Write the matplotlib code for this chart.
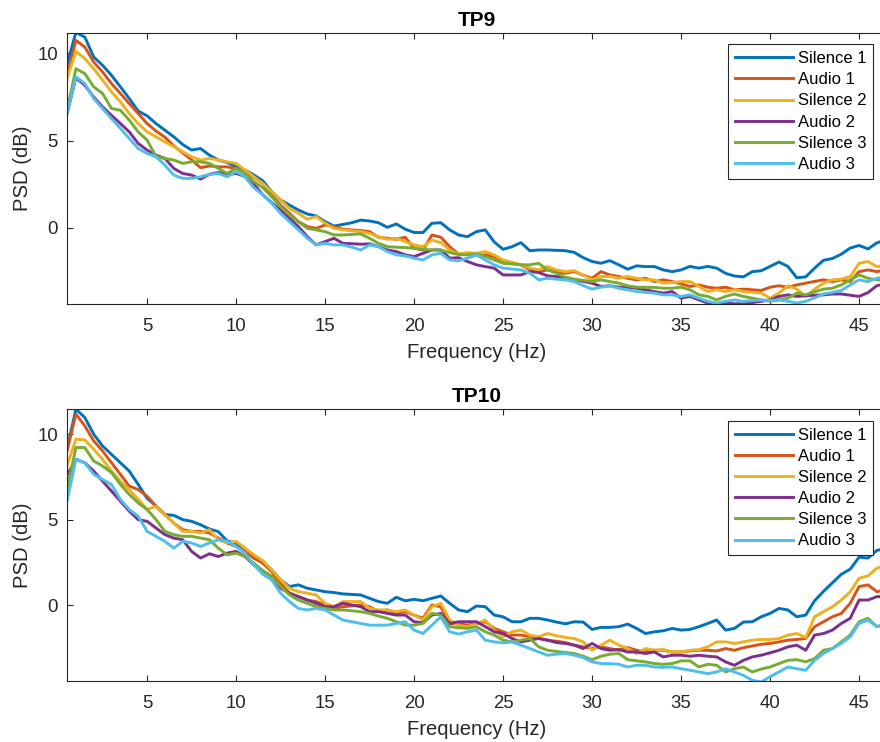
import numpy as np
import matplotlib
matplotlib.use("Agg")
import matplotlib.pyplot as plt

plt.rcParams['font.family'] = ['Liberation Sans', 'DejaVu Sans']

# Frequency grid (Hz), 0.5 Hz resolution
freqs = np.arange(0.5, 46.51, 0.5)

labels = ["Silence 1", "Audio 1", "Silence 2", "Audio 2", "Silence 3", "Audio 3"]
colors = ["#0072BD", "#D95319", "#EDB120", "#7E2F8E", "#77AC30", "#4DBEEE"]

# ---------------- TP9 ----------------
tp9_silence1 = [9.35, 11.2, 10.93, 9.79, 9.31, 8.74, 8.08, 7.41, 6.69, 6.42,
                5.98, 5.6, 5.22, 4.78, 4.46, 4.55, 4.17, 3.89, 3.75, 3.5,
                3.31, 3.03, 2.7, 2.08, 1.6, 1.31, 1.03, 0.8, 0.69, 0.36,
                0.11, 0.2, 0.3, 0.45, 0.4, 0.3, 0.04, 0.23, -0.07, -0.26,
                -0.26, 0.27, 0.3, -0.11, -0.4, -0.5, -0.21, -0.11, -0.8, -1.22,
                -1.07, -0.84, -1.3, -1.26, -1.26, -1.28, -1.3, -1.4, -1.7, -1.92,
                -2.02, -1.87, -2.11, -2.36, -2.17, -2.21, -2.21, -2.4, -2.5, -2.4,
                -2.2, -2.3, -2.2, -2.3, -2.6, -2.75, -2.8, -2.5, -2.45, -2.2,
                -1.95, -2.2, -2.85, -2.8, -2.3, -1.85, -1.75, -1.5, -1.15, -1.0,
                -1.2, -0.85, -0.7]
tp9_audio1 = [8.7, 10.74, 10.36, 9.5, 8.93, 8.27, 7.7, 7.12, 6.55, 5.98,
              5.55, 5.2, 4.7, 4.3, 3.9, 3.45, 3.55, 3.5, 3.5, 3.4,
              3.2, 2.9, 2.55, 1.89, 1.31, 0.84, 0.36, 0.08, -0.02, 0.17,
              0.08, -0.07, -0.11, -0.15, -0.21, -0.53, -0.59, -0.65, -0.53, -1.16,
              -1.26, -0.4, -0.53, -1.07, -1.5, -1.45, -1.54, -1.54, -1.64, -1.92,
              -2.0, -2.11, -2.4, -2.5, -2.4, -2.5, -2.59, -2.5, -2.7, -2.88,
              -2.5, -2.69, -2.78, -2.88, -2.97, -2.88, -3.07, -2.97, -3.07, -3.2,
              -3.35, -3.26, -3.39, -3.45, -3.39, -3.54, -3.5, -3.54, -3.58, -3.39,
              -3.31, -3.39, -3.26, -3.16, -3.06, -2.97, -3.07, -2.97, -3.07, -2.5,
              -2.4, -2.5, -2.4]
tp9_silence2 = [8.55, 10.11, 9.7, 9.12, 8.46, 7.79, 7.22, 6.55, 5.98, 5.5,
                5.22, 4.93, 4.65, 4.36, 4.08, 3.89, 3.98, 3.89, 3.79, 3.7,
                3.31, 2.93, 2.55, 2.08, 1.6, 1.12, 0.84, 0.5, 0.65, 0.27,
                -0.02, -0.11, -0.16, -0.21, -0.31, -0.5, -0.65, -0.59, -0.78, -0.97,
                -1.07, -0.69, -0.84, -1.26, -1.5, -1.41, -1.45, -1.35, -1.54, -1.83,
                -1.97, -2.11, -2.3, -2.4, -2.21, -2.4, -2.5, -2.44, -2.7, -2.97,
                -2.78, -2.78, -2.88, -2.78, -2.88, -2.97, -2.97, -3.16, -3.12, -3.07,
                -3.07, -3.35, -3.64, -3.54, -3.64, -3.54, -3.64, -3.68, -3.73, -4.02,
                -3.73, -3.31, -3.5, -3.92, -3.5, -3.16, -2.97, -2.93, -2.78, -2.02,
                -1.92, -2.21, -2.15]
tp9_audio2 = [6.55, 8.6, 8.17, 7.5, 6.93, 6.45, 5.98, 5.5, 4.84, 4.46,
              4.17, 3.98, 3.41, 3.12, 3.03, 2.8, 3.07, 3.18, 3.07, 3.12,
              2.95, 2.5, 1.9, 1.45, 1.03, 0.55, 0.08, -0.5, -0.97, -0.78,
              -0.59, -0.88, -0.9, -0.93, -0.91, -1.07, -1.26, -1.35, -1.54, -1.64,
              -1.45, -1.26, -1.26, -1.73, -1.7, -1.92, -2.11, -2.21, -2.3, -2.69,
              -2.69, -2.69, -2.5, -2.55, -2.74, -2.78, -2.88, -2.97, -3.06, -3.16,
              -3.35, -3.31, -3.39, -3.39, -3.45, -3.54, -3.64, -3.73, -3.64, -4.02,
              -3.92, -4.12, -4.3, -4.4, -4.3, -4.34, -4.34, -4.27, -4.2, -4.12,
              -3.92, -3.83, -3.92, -3.88, -3.85, -3.83, -3.78, -3.78, -3.85, -3.92,
              -3.7, -3.3, -3.2]
tp9_silence3 = [6.7, 9.12, 8.84, 8.08, 7.7, 6.84, 6.74, 6.17, 5.5, 5.03,
                4.08, 3.98, 3.89, 3.7, 3.79, 3.79, 3.7, 3.41, 3.12, 3.41,
                3.12, 2.65, 2.3, 1.79, 1.22, 0.74, 0.36, -0.02, -0.11, -0.21,
                -0.4, -0.4, -0.37, -0.34, -0.59, -0.88, -1.07, -1.1, -1.12, -1.16,
                -1.22, -1.26, -1.26, -1.41, -1.52, -1.54, -1.49, -1.64, -1.83, -2.02,
                -2.06, -2.11, -2.11, -2.02, -2.4, -2.59, -2.82, -2.93, -3.0, -3.07,
                -2.97, -3.07, -3.16, -3.31, -3.39, -3.4, -3.4, -3.45, -3.45, -3.39,
                -3.54, -3.83, -3.92, -4.12, -3.92, -3.78, -3.92, -4.02, -4.12, -4.2,
                -4.12, -4.02, -3.73, -3.83, -3.65, -3.5, -3.45, -3.26, -2.97, -2.69,
                -2.88, -2.97, -3.0]
tp9_audio3 = [6.55, 8.65, 8.27, 7.41, 6.84, 6.26, 5.7, 5.12, 4.55, 4.27,
              4.08, 3.6, 3.03, 2.84, 2.84, 2.93, 3.07, 3.12, 2.93, 3.22,
              2.93, 2.3, 1.9, 1.41, 0.84, 0.36, -0.11, -0.59, -0.97, -0.88,
              -0.97, -0.97, -1.1, -1.26, -0.97, -1.07, -1.35, -1.54, -1.6, -1.73,
              -1.83, -1.54, -1.45, -1.83, -1.88, -1.73, -1.54, -1.83, -2.11, -2.3,
              -2.35, -2.4, -2.59, -2.97, -2.88, -2.93, -2.97, -3.07, -3.3, -3.5,
              -3.39, -3.31, -3.45, -3.54, -3.64, -3.69, -3.73, -3.83, -3.83, -3.92,
              -3.83, -4.02, -4.2, -4.3, -4.2, -4.12, -4.2, -4.16, -4.12, -4.15,
              -4.12, -4.2, -4.3, -4.2, -4.0, -3.78, -3.69, -3.58, -3.26, -2.97,
              -3.07, -2.88, -2.8]

# ---------------- TP10 ----------------
tp10_silence1 = [9.12, 11.47, 10.98, 10.0, 9.31, 8.82, 8.33, 7.84, 7.06, 6.25,
                 5.8, 5.3, 5.25, 5.0, 4.9, 4.7, 4.45, 4.3, 3.75, 3.63,
                 3.24, 2.75, 2.5, 2.06, 1.47, 1.08, 1.18, 0.98, 0.88, 0.78,
                 0.73, 0.65, 0.62, 0.59, 0.39, 0.2, 0.1, 0.45, 0.25, 0.33,
                 0.25, 0.39, 0.53, 0.1, -0.29, -0.39, -0.06, -0.1, -0.59, -0.69,
                 -0.98, -0.98, -0.78, -0.78, -0.88, -1.0, -1.1, -0.98, -1.0, -1.43,
                 -1.31, -1.31, -1.27, -1.12, -1.37, -1.67, -1.57, -1.51, -1.37, -1.47,
                 -1.43, -1.27, -1.08, -0.88, -1.47, -1.37, -1.0, -0.98, -0.69, -0.49,
                 -0.2, -0.29, -0.69, -0.59, 0.25, 0.8, 1.3, 1.8, 2.1, 2.8,
                 2.75, 3.2, 3.3]
tp10_audio1 = [9.02, 11.18, 10.49, 9.61, 9.02, 8.33, 7.65, 6.96, 6.76, 6.37,
               5.78, 5.29, 4.8, 4.41, 4.31, 4.31, 4.22, 3.92, 3.63, 3.43,
               3.14, 2.75, 2.45, 1.96, 1.27, 0.69, 0.49, 0.29, 0.2, 0.0,
               -0.2, -0.1, -0.05, 0.0, -0.1, -0.39, -0.29, -0.49, -0.39, -0.59,
               -0.78, 0.0, -0.1, -1.08, -1.1, -1.18, -1.08, -0.98, -1.37, -1.57,
               -1.76, -1.76, -1.86, -1.96, -2.06, -2.12, -2.2, -2.35, -2.45, -2.55,
               -2.45, -2.55, -2.65, -2.49, -2.65, -2.75, -2.65, -2.65, -2.75, -2.75,
               -2.69, -2.65, -2.65, -2.69, -2.55, -2.65, -2.5, -2.4, -2.3, -2.25,
               -2.16, -2.06, -2.02, -1.96, -1.27, -0.98, -0.69, -0.49, 0.1, 1.08,
               1.18, 0.78, 0.9]
tp10_silence2 = [8.14, 9.71, 9.67, 9.12, 8.53, 7.84, 7.25, 6.76, 6.18, 5.59,
                 5.78, 5.29, 4.8, 4.31, 4.31, 4.22, 4.41, 3.82, 3.63, 3.73,
                 3.33, 2.94, 2.6, 2.06, 1.47, 0.98, 0.78, 0.69, 0.59, 0.1,
                 -0.1, 0.2, 0.2, 0.2, -0.2, -0.29, -0.29, -0.39, -0.29, -0.59,
                 -0.88, -0.1, 0.1, -0.88, -1.2, -1.27, -1.08, -0.88, -1.47, -1.86,
                 -1.57, -1.47, -1.76, -1.86, -1.67, -1.8, -1.9, -1.96, -2.16, -2.65,
                 -2.35, -2.06, -2.35, -2.55, -2.84, -2.55, -2.65, -2.61, -2.75, -2.75,
                 -2.65, -2.61, -2.45, -2.16, -2.16, -2.25, -2.16, -2.06, -2.02, -2.02,
                 -1.96, -1.76, -1.67, -1.9, -0.69, -0.39, -0.1, 0.29, 0.78, 1.57,
                 1.71, 2.16, 2.3]
tp10_audio2 = [7.6, 8.53, 8.33, 7.84, 7.25, 6.67, 6.08, 5.49, 5.0, 4.9,
               4.51, 4.12, 3.92, 3.82, 3.14, 2.75, 3.0, 2.84, 3.04, 3.14,
               2.84, 2.35, 2.0, 1.67, 0.98, 0.69, 0.49, 0.29, 0.1, -0.1,
               -0.1, 0.1, 0.0, -0.1, -0.39, -0.39, -0.49, -0.59, -0.59, -0.98,
               -1.04, -0.59, -0.49, -1.08, -0.98, -0.98, -0.98, -1.27, -1.57, -1.67,
               -1.96, -2.16, -2.06, -1.96, -2.06, -2.2, -2.25, -2.35, -2.55, -2.25,
               -2.55, -2.65, -2.61, -2.75, -2.75, -2.84, -2.75, -3.04, -2.94, -2.94,
               -3.0, -2.94, -3.0, -3.04, -3.33, -3.53, -3.24, -3.04, -2.94, -2.8,
               -2.65, -2.45, -2.35, -2.65, -1.76, -1.67, -1.47, -1.08, -0.78, 0.29,
               0.29, 0.49, 0.5]
tp10_silence3 = [6.76, 9.22, 9.22, 8.43, 8.14, 7.75, 7.06, 6.47, 5.98, 5.59,
                 5.0, 4.31, 4.12, 4.02, 4.02, 3.92, 3.82, 3.33, 2.94, 3.04,
                 2.84, 2.45, 2.0, 1.67, 1.08, 0.59, 0.29, 0.1, -0.1, -0.2,
                 -0.29, -0.29, -0.34, -0.39, -0.49, -0.65, -0.78, -0.98, -1.18, -1.18,
                 -1.08, -0.49, -0.59, -1.27, -1.33, -1.37, -1.27, -1.57, -1.76, -2.06,
                 -2.16, -2.06, -1.96, -2.45, -2.65, -2.72, -2.78, -2.84, -3.0, -3.2,
                 -3.0, -2.88, -2.84, -3.2, -3.27, -3.33, -3.43, -3.47, -3.43, -3.27,
                 -3.27, -3.63, -3.47, -3.53, -3.92, -3.73, -3.63, -3.92, -3.75, -3.63,
                 -3.43, -3.24, -3.2, -3.33, -3.14, -2.65, -2.55, -2.16, -1.76, -0.98,
                 -0.78, -1.27, -1.1]
tp10_audio3 = [6.08, 8.53, 8.33, 7.65, 7.35, 7.06, 6.18, 5.59, 5.2, 4.31,
               4.02, 3.73, 3.33, 3.73, 3.63, 3.43, 3.63, 3.82, 3.73, 3.43,
               3.04, 2.35, 1.8, 1.47, 0.69, 0.2, -0.2, -0.29, -0.2, -0.29,
               -0.59, -0.88, -0.98, -1.08, -1.18, -1.18, -1.18, -1.08, -0.98, -1.47,
               -1.67, -1.18, -0.69, -1.57, -1.7, -1.57, -1.47, -2.06, -2.16, -2.22,
               -2.16, -2.35, -2.55, -2.75, -2.94, -2.88, -2.84, -2.94, -3.08, -3.33,
               -3.43, -3.43, -3.47, -3.63, -3.53, -3.53, -3.63, -3.65, -3.63, -3.73,
               -3.82, -3.92, -4.02, -3.92, -3.73, -3.92, -4.12, -4.41, -4.51, -4.2,
               -3.92, -3.63, -3.73, -3.82, -3.24, -2.84, -2.55, -2.25, -1.86, -1.08,
               -0.88, -1.27, -1.1]

panels = [
    ("TP9", [tp9_silence1, tp9_audio1, tp9_silence2, tp9_audio2, tp9_silence3, tp9_audio3],
     (-4.37, 11.18)),
    ("TP10", [tp10_silence1, tp10_audio1, tp10_silence2, tp10_audio2, tp10_silence3, tp10_audio3],
     (-4.45, 11.46)),
]

W, H = 880, 742
fig = plt.figure(figsize=(W / 100, H / 100), dpi=100)
axes_px = [(67, 32.7, 885.8, 304.3), (67, 409.3, 885.8, 681.0)]
axc = '#262626'

for (title, series, ylim), (x0, y0, x1, y1) in zip(panels, axes_px):
    ax = fig.add_axes([x0 / W, 1 - y1 / H, (x1 - x0) / W, (y1 - y0) / H])
    for vals, lab, col in zip(series, labels, colors):
        ax.plot(freqs, vals, color=col, lw=2.1, label=lab)
    ax.set_xlim(0.5, 46.5)
    ax.set_ylim(*ylim)
    ax.set_xticks(list(range(5, 50, 5)))
    ax.set_yticks([0, 5, 10])
    ax.tick_params(direction='in', length=4.5, width=0.8, top=True, right=True,
                   labelsize=13.4, colors=axc)
    ax.tick_params(axis='x', pad=10)
    ax.tick_params(axis='y', pad=6.5)
    for sp in ax.spines.values():
        sp.set_color(axc)
        sp.set_linewidth(0.8)
    ax.set_xlabel('Frequency (Hz)', fontsize=14.6, color=axc, labelpad=5.5)
    ax.set_ylabel('PSD (dB)', fontsize=14.6, color=axc, labelpad=4)
    ax.set_title(title, fontsize=15, fontweight='bold', color='black', pad=5)
    leg = ax.legend(loc='upper right', bbox_to_anchor=(0.9847, 0.957), borderaxespad=0,
                    fontsize=12, handlelength=3.5, handletextpad=0.3, labelspacing=0.37,
                    borderpad=0.4, fancybox=False, framealpha=1, edgecolor=axc)
    leg.get_frame().set_linewidth(0.8)
    for t in leg.get_texts():
        t.set_color('black')

fig.savefig('out.png', dpi=100)
